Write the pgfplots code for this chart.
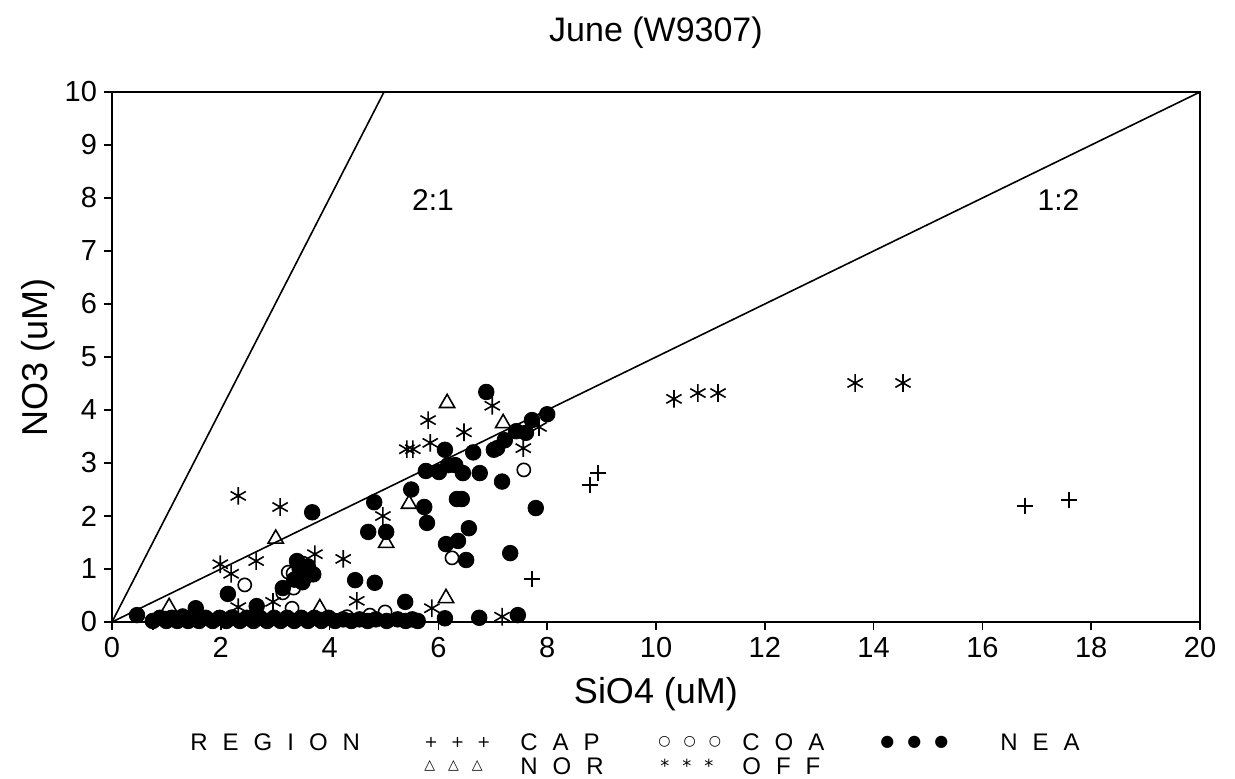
\documentclass[border=0pt]{standalone}
\usepackage{pgfplots}
\pgfplotsset{compat=1.18}
\usepackage{fontspec}
\setmainfont{Liberation Sans}
\newfontfamily\symfont{DejaVu Sans}
\newcommand{\ls}{\hspace{7.5pt}}
\newcommand{\sgap}{\hspace{6.5pt}}

\begin{document}
\begin{tikzpicture}
\useasboundingbox (-56pt,-78pt) rectangle (561.5pt,311pt);
\begin{axis}[
  at={(0,0)}, anchor=south west,
  scale only axis, width=544pt, height=265pt,
  xmin=0, xmax=20, ymin=0, ymax=10,
  xtick={0,2,...,20}, ytick={0,1,...,10},
  xtick pos=left, ytick pos=left, tick align=outside,
  major tick length=4pt,
  axis line style={black, line width=0.8pt},
  tick style={black, line width=0.8pt},
  /pgf/number format/assume math mode=true,
  tick label style={font=\fontsize{14.5}{16}\selectfont},
  xlabel={SiO4 (uM)}, ylabel={NO3 (uM)},
  label style={font=\fontsize{18}{20}\selectfont},
  xlabel style={yshift=-3pt},
  ylabel style={yshift=-2pt},
  title={June (W9307)},
  title style={font=\fontsize{17}{19}\selectfont, yshift=12pt},
  clip=false,
]
% ratio lines
\addplot[black, line width=0.8pt] coordinates {(0,0) (5,10)};
\addplot[black, line width=0.8pt] coordinates {(0,0) (20,10)};
\node[font=\fontsize{15}{17}\selectfont] at (axis cs:5.9,7.96) {2:1};
\node[font=\fontsize{15}{17}\selectfont] at (axis cs:17.4,7.96) {1:2};
% NEA
\addplot[only marks, mark=*, mark size=3.9pt, black] coordinates {
(0.46,0.13) (1.54,0.26) (2.13,0.53) (2.66,0.30) (3.14,0.64) (3.40,1.15)
(3.68,2.07) (4.82,2.26) (5.50,2.50) (5.74,2.17) (5.79,1.87) (4.71,1.70)
(5.04,1.70) (6.34,2.32) (6.43,2.32) (6.56,1.77) (6.14,1.47) (6.36,1.53)
(6.51,1.17) (4.47,0.79) (4.83,0.74) (5.39,0.38)
(3.45,1.00) (3.55,0.85) (3.60,1.05) (3.70,0.90) (3.50,0.75) (3.35,0.80)
(7.17,2.65) (7.79,2.15) (7.32,1.30) (6.12,0.07) (6.75,0.08) (7.46,0.13)
(6.88,4.34) (7.72,3.81) (8.00,3.92) (7.43,3.60) (7.61,3.57) (7.22,3.43)
(7.08,3.28) (7.02,3.25) (6.12,3.25) (6.64,3.20) (5.77,2.85) (6.01,2.83)
(6.18,2.96) (6.31,2.96) (6.45,2.81) (6.76,2.81)
(0.75,0.02) (0.88,0.08) (1.00,0.02) (1.10,0.08) (1.20,0.02) (1.30,0.08)
(1.40,0.02) (1.50,0.08) (1.60,0.02) (1.72,0.08) (1.85,0.02) (1.98,0.08)
(2.10,0.02) (2.22,0.08) (2.35,0.02) (2.48,0.08) (2.60,0.02) (2.72,0.08)
(2.85,0.02) (2.98,0.08) (3.10,0.02) (3.22,0.08) (3.35,0.02) (3.48,0.08)
(3.60,0.02) (3.72,0.08) (3.85,0.02) (3.98,0.08) (4.10,0.02) (4.25,0.05)
(4.40,0.02) (4.55,0.05) (4.70,0.02) (4.85,0.05) (5.05,0.02) (5.25,0.05)
(5.40,0.02) (5.52,0.05) (5.62,0.02)
};
% COA
\addplot[only marks, mark=o, mark size=3.3pt, black, line width=0.8pt] coordinates {
(2.44,0.70) (3.24,0.94) (3.33,0.92) (3.34,0.64) (3.14,0.55) (3.31,0.26)
(3.51,1.11) (6.25,1.21) (5.02,0.19) (4.32,0.10) (4.74,0.13) (7.57,2.87)
(1.30,0.12) (2.20,0.10)
};
% NOR
\addplot[only marks, mark=triangle, mark size=4.4pt, black, line width=0.8pt] coordinates {
(1.05,0.28) (3.01,1.57) (5.46,2.23) (5.04,1.49) (3.82,0.26) (6.14,0.45)
(6.16,4.13) (7.19,3.75)
};
% OFF
\addplot[only marks, mark=asterisk, mark size=4.4pt, black, line width=0.8pt] coordinates {
(2.32,2.38) (3.09,2.17) (1.99,1.09) (2.19,0.91) (2.65,1.15) (2.32,0.28)
(2.96,0.38) (3.73,1.28) (4.25,1.19) (4.98,2.00) (4.50,0.40) (5.88,0.26)
(7.17,0.10) (6.99,4.08) (5.81,3.81) (6.47,3.58) (5.85,3.38) (5.42,3.26)
(5.53,3.26) (7.85,3.68) (7.56,3.28) (10.33,4.21) (10.77,4.32) (11.14,4.32)
(13.66,4.51) (14.54,4.51)
};
% CAP
\addplot[only marks, mark=+, mark size=4pt, black, line width=0.8pt] coordinates {
(7.72,0.81) (8.93,2.81) (8.79,2.58) (16.78,2.19) (17.59,2.30) (0.75,0.00)
};
\end{axis}
% legend
\begin{scope}[every node/.style={anchor=west, inner sep=0pt, font=\fontsize{12}{14}\selectfont}]
\node at (39pt,-60pt) {R\ls E\ls G\ls I\ls O\ls N};
\node at (156pt,-60pt) {\symfont\fontsize{8}{10}\selectfont +\sgap +\sgap +};
\node at (204pt,-60pt) {C\ls A\ls P};
\node at (273pt,-60pt) {\symfont\fontsize{7}{10}\selectfont ○\sgap ○\sgap ○};
\node at (315pt,-60pt) {C\ls O\ls A};
\node at (384pt,-60pt) {\symfont\fontsize{8}{10}\selectfont ●\sgap ●\sgap ●};
\node at (444pt,-60pt) {N\ls E\ls A};
\node at (156pt,-72pt) {\symfont\fontsize{7}{10}\selectfont △\sgap △\sgap △};
\node at (204pt,-72pt) {N\ls O\ls R};
\node at (274pt,-72pt) {\symfont\fontsize{9}{10}\selectfont *\sgap *\sgap *};
\node at (315pt,-72pt) {O\ls F\ls F};
\end{scope}
\end{tikzpicture}
\end{document}
